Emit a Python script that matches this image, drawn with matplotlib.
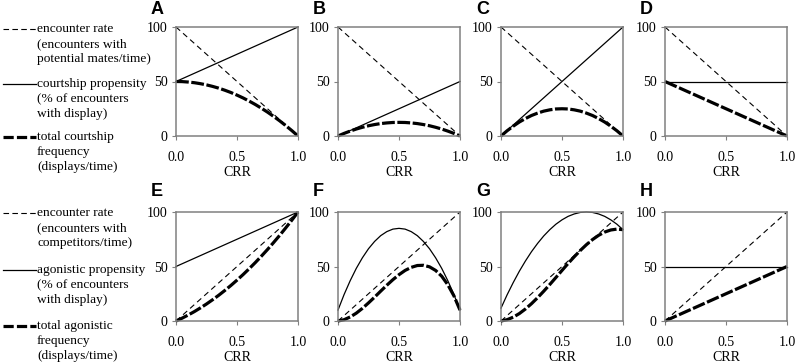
import matplotlib
matplotlib.use("Agg")
import matplotlib.pyplot as plt
from matplotlib.lines import Line2D

plt.rcParams["font.family"] = ["Liberation Serif", "DejaVu Serif"]

# CRR values along the x axis
crr = [0.0, 0.05, 0.1, 0.15, 0.2, 0.25, 0.3, 0.35, 0.4, 0.45, 0.5,
       0.55, 0.6, 0.65, 0.7, 0.75, 0.8, 0.85, 0.9, 0.95, 1.0]
crr_ends = [0.0, 1.0]

# encounter rate (straight lines)
enc_top = [100, 0]      # courtship panels A-D
enc_bottom = [0, 100]   # agonistic panels E-H

# propensity lines / curves
prop_A = [50, 100]
prop_B = [0, 50]
prop_C = [0, 100]
prop_D = [50, 50]
prop_E = [50, 100]
prop_F = [10, 24.3, 37, 48.3, 58, 66.3, 73, 78.3, 82, 84.3, 85,
          84.3, 82, 78.3, 73, 66.3, 58, 48.3, 37, 24.3, 10]
prop_G = [11.8, 24, 35.2, 45.6, 55, 63.6, 71.2, 78, 83.8, 88.8, 92.8,
          96, 98.2, 99.6, 100, 99.6, 98.2, 96, 92.8, 88.8, 83.8]
prop_H = [50, 50]

# total frequency
total_A = [50, 49.9, 49.5, 48.9, 48.0, 46.9, 45.5, 43.9, 42.0, 39.9, 37.5,
           34.9, 32.0, 28.9, 25.5, 21.9, 18.0, 13.9, 9.5, 4.9, 0]
total_B = [0, 2.4, 4.5, 6.4, 8.0, 9.4, 10.5, 11.4, 12.0, 12.4, 12.5,
           12.4, 12.0, 11.4, 10.5, 9.4, 8.0, 6.4, 4.5, 2.4, 0]
total_C = [0, 4.8, 9, 12.8, 16, 18.8, 21, 22.8, 24, 24.8, 25,
           24.8, 24, 22.8, 21, 18.8, 16, 12.8, 9, 4.8, 0]
total_D = [50, 0]
total_E = [0, 2.6, 5.5, 8.6, 12, 15.6, 19.5, 23.6, 28, 32.6, 37.5,
           42.6, 48, 53.6, 59.5, 65.6, 72, 78.6, 85.5, 92.6, 100]
total_F = [0, 1.2, 3.7, 7.2, 11.6, 16.6, 21.9, 27.4, 32.8, 37.9, 42.5,
           46.4, 49.2, 50.9, 51.1, 49.7, 46.4, 41.1, 33.3, 23.1, 10]
total_G = [0, 1.2, 3.5, 6.8, 11, 15.9, 21.4, 27.3, 33.5, 39.9, 46.4,
           52.8, 58.9, 64.7, 70, 74.7, 78.6, 81.6, 83.5, 84.3, 83.8]
total_H = [0, 50]

panels = [
    ("A", enc_top, prop_A, crr_ends, total_A, crr),
    ("B", enc_top, prop_B, crr_ends, total_B, crr),
    ("C", enc_top, prop_C, crr_ends, total_C, crr),
    ("D", enc_top, prop_D, crr_ends, total_D, crr_ends),
    ("E", enc_bottom, prop_E, crr_ends, total_E, crr),
    ("F", enc_bottom, prop_F, crr, total_F, crr),
    ("G", enc_bottom, prop_G, crr, total_G, crr),
    ("H", enc_bottom, prop_H, crr_ends, total_H, crr_ends),
]

W, H = 800, 363
fig = plt.figure(figsize=(W / 100, H / 100), dpi=100)

thin_dash = (0, (5, 3.5))
thick_dash = (0, (4.0, 0.8))
spine_col = "#808080"

lefts = [176, 338, 501, 665]
bottoms = [136, 321]
aw, ah = 122, 109

for i, (lab, enc, prop, prop_x, tot, tot_x) in enumerate(panels):
    row, col = divmod(i, 4)
    ax = fig.add_axes([lefts[col] / W, (H - bottoms[row]) / H, aw / W, ah / H])
    ax.plot(crr_ends, enc, color="black", lw=0.8, ls=thin_dash, clip_on=False)
    ax.plot(prop_x, prop, color="black", lw=0.9, clip_on=False)
    ax.plot(tot_x, tot, color="black", lw=2.3, ls=thick_dash, clip_on=False)
    ax.set_xlim(0, 1)
    ax.set_ylim(0, 100)
    ax.set_xticks([0, 0.5, 1.0])
    ax.set_xticklabels(["0.0", "0.5", "1.0"])
    ax.set_yticks([0, 50, 100])
    ax.tick_params(direction="out", length=3, width=0.8, color=spine_col,
                   labelsize=10, pad=3)
    ax.tick_params(axis="x", pad=8)
    for s in ax.spines.values():
        s.set_color(spine_col)
        s.set_linewidth(1.1)
    ax.set_xlabel("CRR", fontsize=10, labelpad=1)
    fig.text((lefts[col] - 25) / W, 1 - (10 if row == 0 else 192) / H, lab,
             family="Liberation Sans", weight="bold", fontsize=13,
             ha="left", va="center")

# left-hand key
key_top = [
    ("thin", 29, ["encounter rate", "(encounters with", "potential mates/time)"]),
    ("solid", 84, ["courtship propensity", "(% of encounters", "with display)"]),
    ("thick", 137, ["total courtship", "frequency", "(displays/time)"]),
]
key_bottom = [
    ("thin", 213, ["encounter rate", "(encounters with", "competitors/time)"]),
    ("solid", 270, ["agonistic propensity", "(% of encounters", "with display)"]),
    ("thick", 326, ["total agonistic", "frequency", "(displays/time)"]),
]
styles = {"thin": dict(lw=0.8, ls=(0, (5, 3))),
          "solid": dict(lw=0.9, ls="-"),
          "thick": dict(lw=2.3, ls=(0, (3.2, 1.0)))}

for kind, y, lines in key_top + key_bottom:
    yf = 1 - y / H
    fig.add_artist(Line2D([3 / W, 36 / W], [yf, yf], color="black", **styles[kind]))
    for j, t in enumerate(lines):
        fig.text(37 / W, 1 - (y + 15 * j) / H, t, fontsize=9.6,
                 ha="left", va="center")

fig.savefig("out.png", dpi=100)
